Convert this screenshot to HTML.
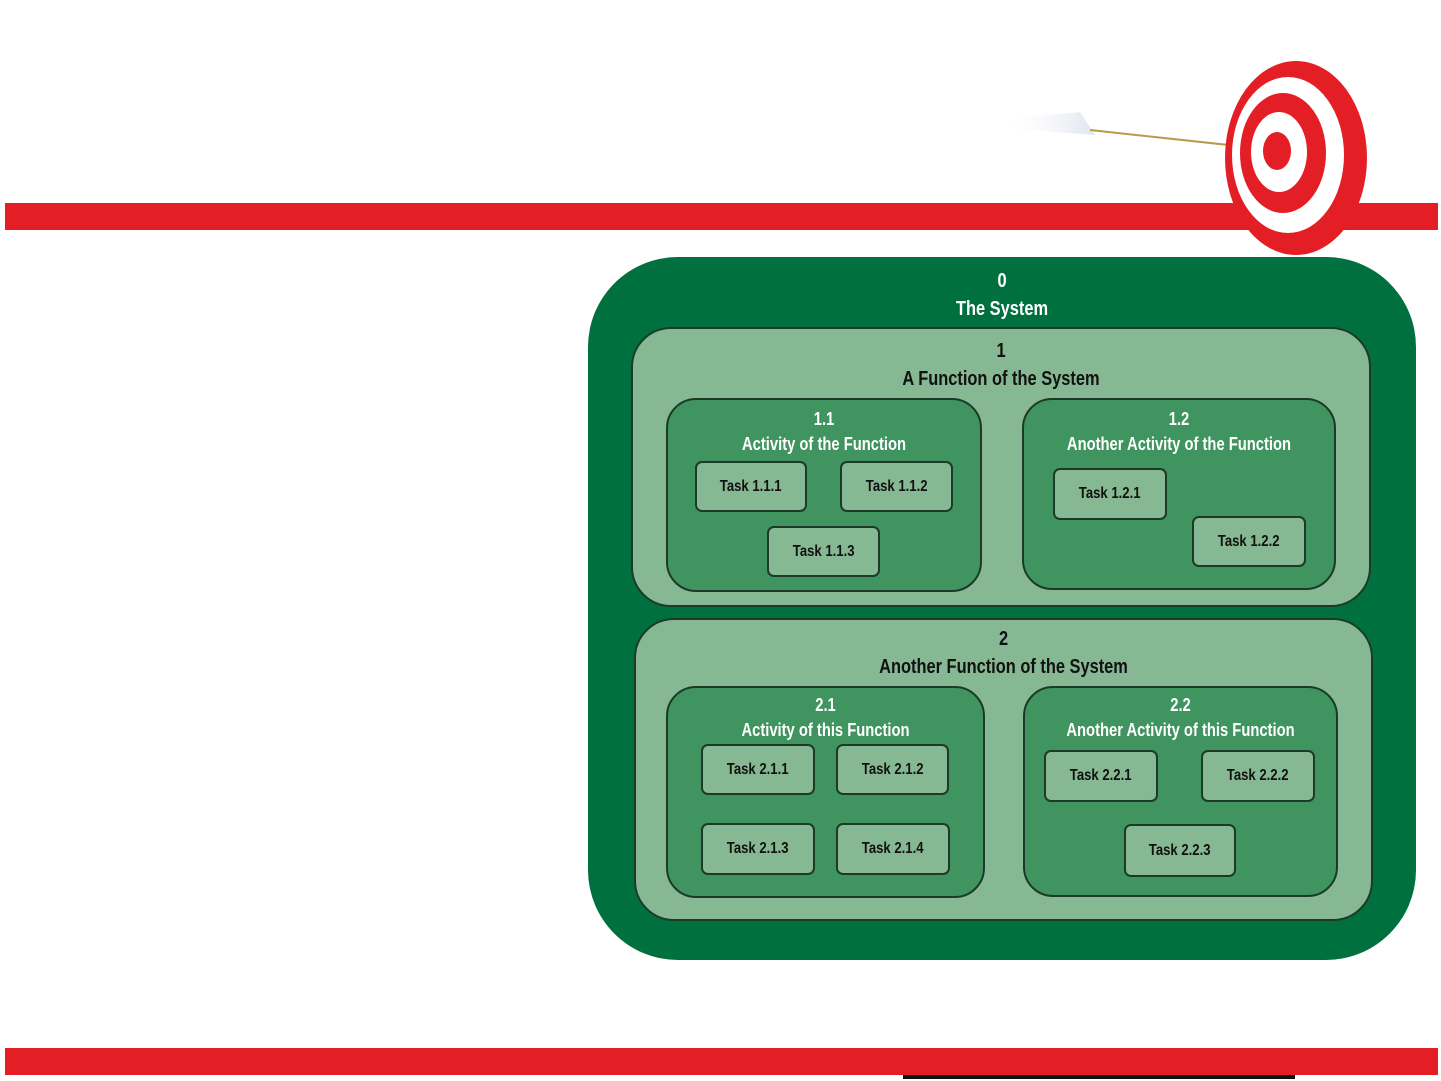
<!DOCTYPE html>
<html><head><meta charset="utf-8"><style>
body{margin:0;width:1441px;height:1081px;background:#fff;position:relative;overflow:hidden;font-family:"Liberation Sans Narrow","Liberation Sans",sans-serif;}
.a{position:absolute;box-sizing:border-box;}
.t{position:absolute;left:0;right:0;text-align:center;transform:scaleX(.82);font-weight:bold;white-space:nowrap;}
.task{position:absolute;box-sizing:border-box;background:#86b893;border:2px solid #1c3a27;border-radius:7px;color:#111;font-weight:bold;font-size:16px;text-align:center;}
.task span{display:inline-block;transform:scaleX(.82);}
.sub{position:absolute;box-sizing:border-box;background:#3f9460;border:2px solid #1c3a27;border-radius:30px;}
</style></head><body>
<div class="a" style="left:5px;top:203px;width:1433px;height:27px;background:#e31e25"></div>
<div class="a" style="left:5px;top:1048px;width:1433px;height:27px;background:#e31e25"></div>
<div class="a" style="left:903px;top:1075px;width:392px;height:4px;background:#111"></div>
<svg class="a" style="left:0;top:0" width="1441" height="260">
<defs><linearGradient id="g" x1="0" x2="1"><stop offset="0" stop-color="#fff" stop-opacity="0"/><stop offset="1" stop-color="#dfe4ee"/></linearGradient></defs>
<polygon points="1000,120 1080,112 1095,135 1000,128" fill="url(#g)"/>
<line x1="1090" y1="130" x2="1275" y2="150" stroke="#b79a4a" stroke-width="2"/>
<ellipse cx="1296" cy="158" rx="71" ry="97" fill="#e31e25"/>
<ellipse cx="1288" cy="155" rx="56" ry="78" fill="#fff"/>
<ellipse cx="1283" cy="153" rx="43" ry="60" fill="#e31e25"/>
<ellipse cx="1279" cy="152" rx="28" ry="40" fill="#fff"/>
<ellipse cx="1277" cy="151" rx="14" ry="19" fill="#e31e25"/>
</svg>
<div class="a" style="left:588px;top:257px;width:828px;height:703px;background:#00703f;border-radius:90px;">
<div class="t" style="top:10px;color:#fff;font-size:20px;line-height:28px">0<br>The System</div></div>
<div class="a" style="left:631px;top:327px;width:740px;height:280px;background:#86b893;border:2px solid #1c3a27;border-radius:40px;">
<div class="t" style="top:8px;color:#111;font-size:20px;line-height:28px">1<br>A Function of the System</div></div>
<div class="a" style="left:634px;top:618px;width:739px;height:303px;background:#86b893;border:2px solid #1c3a27;border-radius:40px;">
<div class="t" style="top:5px;color:#111;font-size:20px;line-height:28px">2<br>Another Function of the System</div></div>
<div class="sub" style="left:666px;top:398px;width:316px;height:194px"><div class="t" style="top:7px;color:#fff;font-size:18px;line-height:25px">1.1<br>Activity of the Function</div></div>
<div class="sub" style="left:1022px;top:398px;width:314px;height:192px"><div class="t" style="top:7px;color:#fff;font-size:18px;line-height:25px">1.2<br>Another Activity of the Function</div></div>
<div class="sub" style="left:666px;top:686px;width:319px;height:212px"><div class="t" style="top:5px;color:#fff;font-size:18px;line-height:25px">2.1<br>Activity of this Function</div></div>
<div class="sub" style="left:1023px;top:686px;width:315px;height:211px"><div class="t" style="top:5px;color:#fff;font-size:18px;line-height:25px">2.2<br>Another Activity of this Function</div></div>
<div class="task" style="left:695px;top:461px;width:112px;height:51px;line-height:47px"><span>Task 1.1.1</span></div>
<div class="task" style="left:840px;top:461px;width:113px;height:51px;line-height:47px"><span>Task 1.1.2</span></div>
<div class="task" style="left:767px;top:526px;width:113px;height:51px;line-height:47px"><span>Task 1.1.3</span></div>
<div class="task" style="left:1053px;top:468px;width:114px;height:52px;line-height:48px"><span>Task 1.2.1</span></div>
<div class="task" style="left:1192px;top:516px;width:114px;height:51px;line-height:47px"><span>Task 1.2.2</span></div>
<div class="task" style="left:701px;top:744px;width:114px;height:51px;line-height:47px"><span>Task 2.1.1</span></div>
<div class="task" style="left:836px;top:744px;width:113px;height:51px;line-height:47px"><span>Task 2.1.2</span></div>
<div class="task" style="left:701px;top:823px;width:114px;height:52px;line-height:48px"><span>Task 2.1.3</span></div>
<div class="task" style="left:836px;top:823px;width:114px;height:52px;line-height:48px"><span>Task 2.1.4</span></div>
<div class="task" style="left:1044px;top:750px;width:114px;height:52px;line-height:48px"><span>Task 2.2.1</span></div>
<div class="task" style="left:1201px;top:750px;width:114px;height:52px;line-height:48px"><span>Task 2.2.2</span></div>
<div class="task" style="left:1124px;top:824px;width:112px;height:53px;line-height:49px"><span>Task 2.2.3</span></div>
</body></html>
